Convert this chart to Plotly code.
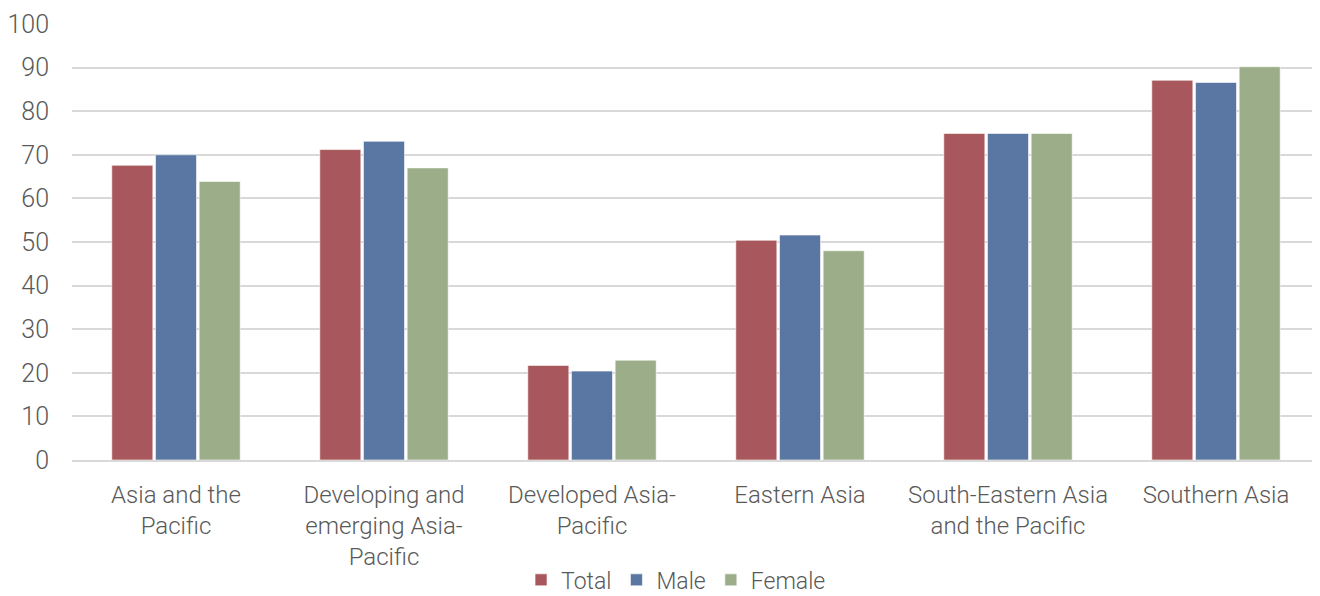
import plotly.graph_objects as go

categories = ["Asia and the<br>Pacific", "Developing and<br>emerging Asia-<br>Pacific",
              "Developed Asia-<br>Pacific", "Eastern Asia",
              "South-Eastern Asia<br>and the Pacific", "Southern Asia"]
total = [67.6, 71.2, 21.7, 50.4, 74.9, 87.1]
male = [70.0, 73.1, 20.4, 51.6, 74.9, 86.6]
female = [63.9, 67.0, 22.9, 48.0, 74.9, 90.2]
y_ticks = [0, 10, 20, 30, 40, 50, 60, 70, 80, 90, 100]

font_family = "Roboto"
text_color = "#595959"
fs = 24

fig = go.Figure()
for name, vals, color in [("Total", total, "#A8585C"),
                          ("Male", male, "#5A77A3"),
                          ("Female", female, "#9BAD89")]:
    fig.add_trace(go.Bar(x=categories, y=vals, name=name,
                         marker=dict(color=color, line=dict(color="rgba(255,255,255,0.6)", width=1))))

fig.update_layout(
    width=1312, height=620,
    barmode="group", bargap=0.37, bargroupgap=0.06,
    plot_bgcolor="white", paper_bgcolor="white",
    margin=dict(l=64, r=0, t=16, b=168),
    font=dict(family=font_family, color=text_color, size=fs, weight=300),
    legend=dict(orientation="h", x=0.484, xanchor="center", y=-0.275, yanchor="middle",
                font=dict(size=23, color=text_color, family=font_family, weight=300),
                itemwidth=30, tracegroupgap=0, traceorder="normal"),
    showlegend=True,
)
fig.update_yaxes(range=[0, 100], tickvals=y_ticks, showgrid=True, gridcolor="#D9D9D9", gridwidth=2,
                 zeroline=False, showline=False, ticklabelstandoff=22,
                 tickfont=dict(size=25, color=text_color, family=font_family, weight=300))
fig.update_xaxes(showline=True, linecolor="#D9D9D9", linewidth=2, ticks="", ticklabelstandoff=12,
                 tickfont=dict(size=fs, color=text_color, family=font_family, weight=300))

fig.write_html("out.html")
